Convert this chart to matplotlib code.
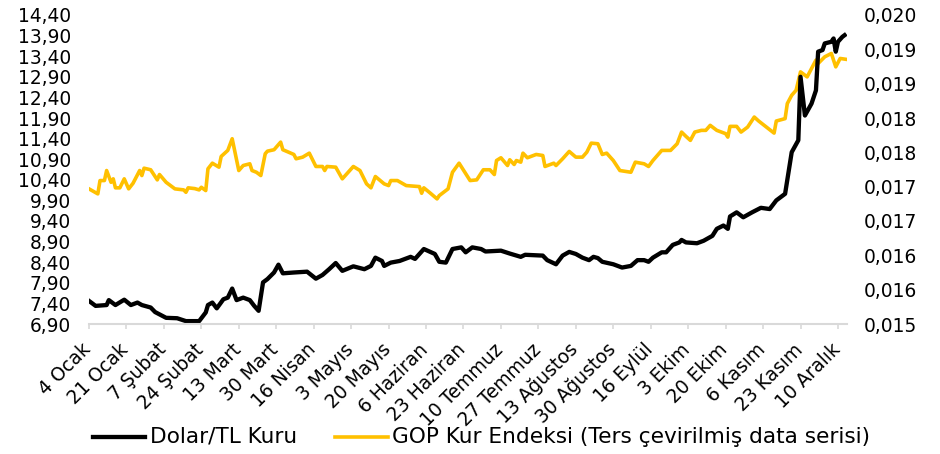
import matplotlib
matplotlib.use("Agg")
import matplotlib.pyplot as plt
from matplotlib.lines import Line2D
from matplotlib.transforms import ScaledTranslation
import numpy as np
import pandas as pd

# --- data (days since 4 Jan 2021) ---
usd_days = [0, 3, 8, 9, 12, 16, 19, 22, 24, 28, 30, 35, 40, 44, 50, 53, 54, 56, 58, 61,
            63, 65, 67, 70, 73, 75, 77, 79, 81, 84, 86, 88, 93, 99, 103, 106, 109, 112, 115, 120,
            125, 128, 130, 133, 134, 137, 141, 146, 148, 152, 157, 159, 162, 165, 169, 171, 174, 178, 180, 187,
            191, 196, 198, 206, 208, 212, 215, 218, 221, 224, 227, 229, 231, 233, 238, 242, 246, 249, 252, 254,
            256, 260, 262, 265, 268, 269, 271, 276, 279, 283, 285, 288, 290, 291, 294, 297, 301, 305, 309, 312,
            316, 319, 322, 323, 325, 328, 330, 331, 333, 334, 337, 338, 339, 340, 342, 343]
usd_values = [7.46, 7.34, 7.36, 7.48, 7.36, 7.49, 7.36, 7.42, 7.36, 7.30, 7.19, 7.05, 7.04, 6.97, 6.97, 7.18, 7.36, 7.42, 7.28, 7.50,
              7.54, 7.76, 7.48, 7.54, 7.48, 7.34, 7.22, 7.91, 7.99, 8.15, 8.34, 8.13, 8.15, 8.17, 8.00, 8.09, 8.23, 8.38, 8.19, 8.30,
              8.23, 8.31, 8.51, 8.43, 8.31, 8.39, 8.43, 8.53, 8.48, 8.72, 8.60, 8.41, 8.39, 8.72, 8.76, 8.64, 8.76, 8.72, 8.66, 8.68,
              8.61, 8.53, 8.58, 8.56, 8.45, 8.35, 8.56, 8.65, 8.60, 8.51, 8.45, 8.53, 8.50, 8.41, 8.35, 8.27, 8.31, 8.45, 8.45, 8.41,
              8.51, 8.64, 8.64, 8.82, 8.88, 8.94, 8.88, 8.86, 8.92, 9.04, 9.21, 9.29, 9.21, 9.51, 9.61, 9.49, 9.61, 9.72, 9.69, 9.90,
              10.06, 11.07, 11.36, 12.90, 11.96, 12.25, 12.57, 13.51, 13.55, 13.71, 13.75, 13.83, 13.51, 13.75, 13.87, 13.91]

gop_days = [0, 4, 5, 7, 8, 10, 11, 12, 14, 16, 18, 20, 23, 24, 25, 28, 31, 32, 35, 39,
            43, 44, 45, 48, 50, 51, 53, 54, 56, 59, 60, 63, 65, 68, 70, 73, 74, 76, 78, 80,
            81, 84, 87, 88, 93, 94, 97, 100, 103, 106, 107, 108, 112, 115, 120, 123, 126, 128, 130, 134,
            136, 137, 140, 144, 150, 151, 152, 155, 158, 159, 163, 165, 168, 173, 176, 179, 182, 184, 185, 187,
            190, 191, 193, 194, 196, 197, 199, 203, 206, 207, 211, 212, 215, 218, 221, 224, 226, 228, 231, 233,
            235, 238, 241, 243, 246, 248, 252, 254, 256, 260, 264, 267, 269, 271, 273, 275, 278, 280, 282, 285,
            289, 290, 291, 294, 296, 299, 302, 304, 311, 312, 316, 317, 319, 321, 323, 326, 330, 331, 334, 337,
            339, 341, 344]
gop_values = [0.017218, 0.017145, 0.017339, 0.017339, 0.017485, 0.017314, 0.017364, 0.017233, 0.017233, 0.017364,
              0.017218, 0.017300, 0.017485, 0.017412, 0.017519, 0.017496, 0.017349, 0.017427, 0.017314, 0.017218,
              0.017203, 0.017168, 0.017233, 0.017222, 0.017203, 0.017241, 0.017193, 0.017510, 0.017592, 0.017534,
              0.017690, 0.017778, 0.017948, 0.017485, 0.017558, 0.017583, 0.017485, 0.017460, 0.017412, 0.017729,
              0.017767, 0.017788, 0.017899, 0.017788, 0.017719, 0.017656, 0.017680, 0.017738, 0.017544, 0.017544,
              0.017485, 0.017544, 0.017534, 0.017364, 0.017544, 0.017485, 0.017291, 0.017233, 0.017398, 0.017291,
              0.017266, 0.017339, 0.017339, 0.017266, 0.017251, 0.017154, 0.017233, 0.017154, 0.017072, 0.017120,
              0.017218, 0.017460, 0.017592, 0.017339, 0.017349, 0.017496, 0.017496, 0.017427, 0.017631, 0.017671,
              0.017558, 0.017642, 0.017573, 0.017631, 0.017607, 0.017738, 0.017671, 0.017719, 0.017704, 0.017544,
              0.017592, 0.017558, 0.017656, 0.017763, 0.017680, 0.017680, 0.017753, 0.017884, 0.017875, 0.017719,
              0.017738, 0.017631, 0.017485, 0.017475, 0.017460, 0.017607, 0.017583, 0.017544, 0.017631, 0.017778,
              0.017778, 0.017875, 0.018045, 0.017982, 0.017924, 0.018045, 0.018070, 0.018070, 0.018143, 0.018070,
              0.018022, 0.017972, 0.018128, 0.018128, 0.018045, 0.018118, 0.018264, 0.018206, 0.018030, 0.018206,
              0.018241, 0.018460, 0.018581, 0.018654, 0.018922, 0.018849, 0.019093, 0.019044, 0.019141, 0.019190,
              0.018995, 0.019117, 0.019103]

x_tick_labels = ["4 Ocak", "21 Ocak", "7 Şubat", "24 Şubat", "13 Mart", "30 Mart", "16 Nisan",
                 "3 Mayıs", "20 Mayıs", "6 Haziran", "23 Haziran", "10 Temmuz", "27 Temmuz",
                 "13 Ağustos", "30 Ağustos", "16 Eylül", "3 Ekim", "20 Ekim", "6 Kasım",
                 "23 Kasım", "10 Aralık"]
left_ticks = [6.90, 7.40, 7.90, 8.40, 8.90, 9.40, 9.90, 10.40, 10.90, 11.40, 11.90,
              12.40, 12.90, 13.40, 13.90, 14.40]
right_ticks = [0.01525, 0.01575, 0.01625, 0.01675, 0.01725, 0.01775, 0.01825,
               0.01875, 0.01925, 0.01975]
right_tick_labels = ["0,015", "0,016", "0,016", "0,017", "0,017", "0,018", "0,018",
                     "0,019", "0,019", "0,020"]
legend_labels = ["Dolar/TL Kuru", "GOP Kur Endeksi (Ters çevirilmiş data serisi)"]

start = pd.Timestamp("2021-01-04")
usd_dates = start + pd.to_timedelta(usd_days, unit="D")
gop_dates = start + pd.to_timedelta(gop_days, unit="D")
tick_dates = pd.date_range(start, periods=len(x_tick_labels), freq="17D")

FONT = ['DejaVu Sans']
plt.rcParams['font.family'] = FONT
W, H = 940, 454
PX = 72 / 100.0  # points per pixel
AX_L, AX_R, AX_T, AX_B = 89, 847, 15, 324   # plot area in pixels (top-left origin)

fig = plt.figure(figsize=(W/100, H/100), dpi=100)
renderer = fig.canvas.get_renderer()

def fit_size(s, target_px, base=13.0):
    t = fig.text(0, 0, s, fontsize=base)
    w = t.get_window_extent(renderer).width
    t.remove()
    return base * target_px / w

FS_TICK = fit_size("14,40", 53)
FS_LEG = fit_size(legend_labels[1], 478)

ax = fig.add_axes([AX_L/W, 1-AX_B/H, (AX_R-AX_L)/W, (AX_B-AX_T)/H])
ax2 = ax.twinx()

GOLD = "#FFC000"
ax2.plot(gop_dates, gop_values, color=GOLD, lw=2.6, solid_joinstyle='round')
ax.plot(usd_dates, usd_values, color="black", lw=3.1, solid_joinstyle='round')
ax.set_zorder(ax2.get_zorder() + 1)
ax.patch.set_visible(False)

ax.set_xlim(start, start + pd.Timedelta(days=344.1))
ax.set_ylim(6.90, 14.40)
ax2.set_ylim(0.01525, 0.01975)

for a in (ax, ax2):
    for s in ('top', 'left', 'right', 'bottom'):
        a.spines[s].set_visible(False)
ax.spines['bottom'].set_visible(True)
ax.spines['bottom'].set_color('#D9D9D9')
ax.spines['bottom'].set_linewidth(1.5)

ax.tick_params(axis='y', length=0, pad=18*PX)
ax2.tick_params(axis='y', length=0, pad=17*PX)
ax.tick_params(axis='x', length=5*PX, width=1.2, color='#D9D9D9', pad=19*PX)

ax.set_yticks(left_ticks)
ax.set_yticklabels([f"{v:.2f}".replace(".", ",") for v in left_ticks], fontsize=FS_TICK)
ax2.set_yticks(right_ticks)
ax2.set_yticklabels(right_tick_labels, fontsize=FS_TICK)

ax.set_xticks(tick_dates)
ax.set_xticklabels(x_tick_labels, fontsize=FS_TICK, rotation=45, ha='right', va='center',
                   rotation_mode='anchor')

# place rotated x labels: top-right of each label box ~6px right of its tick, ~16px below the axis
fig.canvas.draw()
labs = ax.get_xticklabels()
bb0 = labs[0].get_window_extent(renderer)
tick0_x = ax.transData.transform((matplotlib.dates.date2num(tick_dates[0]), 0))[0]
dx = (tick0_x + 6) - bb0.x1
dy = (H - (AX_B + 16)) - bb0.y1
shift = ScaledTranslation(dx/100, dy/100, fig.dpi_scale_trans)
for lab in labs:
    lab.set_transform(lab.get_transform() + shift)

# legend drawn at fixed figure positions
ly = 1 - 437/H
fig.add_artist(Line2D([93/W, 145/W], [ly, ly], color="black", lw=3.1))
fig.text(150/W, ly, legend_labels[0], fontsize=FS_LEG, va='center', ha='left')
fig.add_artist(Line2D([335/W, 388/W], [ly, ly], color=GOLD, lw=2.6))
fig.text(392/W, ly, legend_labels[1], fontsize=FS_LEG, va='center', ha='left')

fig.savefig("out.png", dpi=100)
